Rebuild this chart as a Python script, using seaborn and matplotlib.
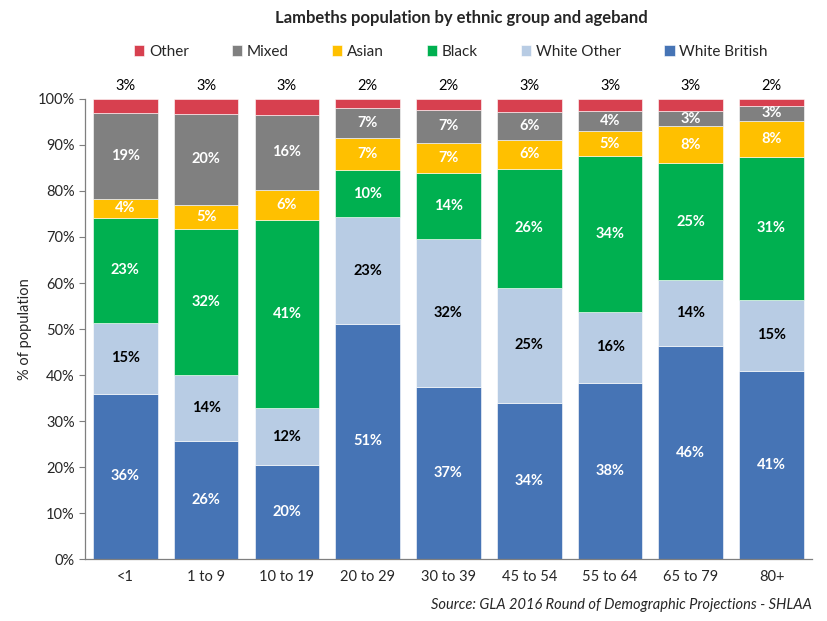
import matplotlib
matplotlib.use("Agg")
import matplotlib.pyplot as plt
from matplotlib.ticker import PercentFormatter, FixedLocator
import seaborn as sns
import numpy as np

# age bands on the x axis
ages = ["<1", "1 to 9", "10 to 19", "20 to 29", "30 to 39", "45 to 54", "55 to 64", "65 to 79", "80+"]

# share of population (%) per ethnic group, stacked bottom to top
white_british = [35.9, 25.7, 20.4, 51.1, 37.4, 34.0, 38.2, 46.2, 40.9]
white_other = [15.4, 14.3, 12.4, 23.2, 32.1, 25.0, 15.6, 14.4, 15.4]
black = [22.9, 31.8, 41.0, 10.3, 14.4, 25.8, 33.8, 25.4, 31.1]
asian = [4.1, 5.2, 6.4, 6.9, 6.6, 6.3, 5.4, 8.1, 7.9]
mixed = [18.7, 19.7, 16.4, 6.6, 7.1, 6.0, 4.4, 3.3, 3.1]
other = [3.0, 3.3, 3.4, 1.9, 2.4, 2.9, 2.6, 2.6, 1.6]

groups = ["White British", "White Other", "Black", "Asian", "Mixed", "Other"]
series = [white_british, white_other, black, asian, mixed, other]
colours = ["#4674B5", "#B8CCE4", "#00B050", "#FFC000", "#808080", "#D7404F"]
label_colours = ["white", "black", "white", "white", "white", "black"]

sns.set_style("white")
plt.rcParams["font.family"] = ["Lato", "DejaVu Sans"]

fig = plt.figure(figsize=(8.27, 6.21), dpi=100)
ax = fig.add_axes([0.1028, 0.0998, 0.879, 0.7408])

bottom = np.zeros(len(ages))
for name, vals, col, lcol in zip(groups, series, colours, label_colours):
    vals = np.array(vals)
    sns.barplot(x=ages, y=vals, bottom=bottom, color=col, width=0.8, saturation=1,
                edgecolor="white", linewidth=0.4, label=name, ax=ax)
    for i, v in enumerate(vals):
        if name == "Other":
            ax.annotate(f"{v:.0f}%", (i, bottom[i] + v), xytext=(0, 4),
                        textcoords="offset points", ha="center", va="bottom",
                        fontsize=10.5, color="black", annotation_clip=False)
        else:
            ax.text(i, bottom[i] + v / 2, f"{v:.0f}%", ha="center", va="center",
                    fontsize=10.5, fontweight="bold", color=lcol)
    bottom += vals

if ax.get_legend() is not None:
    ax.get_legend().remove()

ax.set_xlim(-0.5, len(ages) - 0.5)
ax.set_ylim(0, 100)
ax.yaxis.set_major_locator(FixedLocator(np.arange(0, 101, 10)))
ax.yaxis.set_major_formatter(PercentFormatter(decimals=0))
ax.set_ylabel("% of population", fontsize=10.5)
ax.set_xlabel("")

# tick marks sit between categories on the x axis
ax.tick_params(axis="x", length=0, labelsize=10.5, pad=8)
ax.set_xticks(np.arange(-0.5, len(ages)), minor=True)
ax.tick_params(axis="x", which="minor", length=5, color="#7f7f7f", direction="out")
ax.tick_params(axis="y", length=4, color="#7f7f7f", direction="out", labelsize=10.5, left=True)

for side in ["top", "right"]:
    ax.spines[side].set_visible(False)
for side in ["left", "bottom"]:
    ax.spines[side].set_color("#7f7f7f")
    ax.spines[side].set_linewidth(0.9)

handles, labs = ax.get_legend_handles_labels()
fig.legend(handles[::-1], labs[::-1], loc="center", bbox_to_anchor=(0.545, 0.916),
           ncol=6, frameon=False, fontsize=11, handlelength=0.7, handleheight=0.7,
           handletextpad=0.3, columnspacing=2.8)

fig.text(0.558, 0.971, "Lambeths population by ethnic group and ageband",
         ha="center", va="center", fontsize=12, fontweight="bold")
fig.text(0.982, 0.026, "Source: GLA 2016 Round of Demographic Projections - SHLAA",
         ha="right", va="center", fontsize=10.5, style="italic")

fig.savefig("out.png", dpi=100)
